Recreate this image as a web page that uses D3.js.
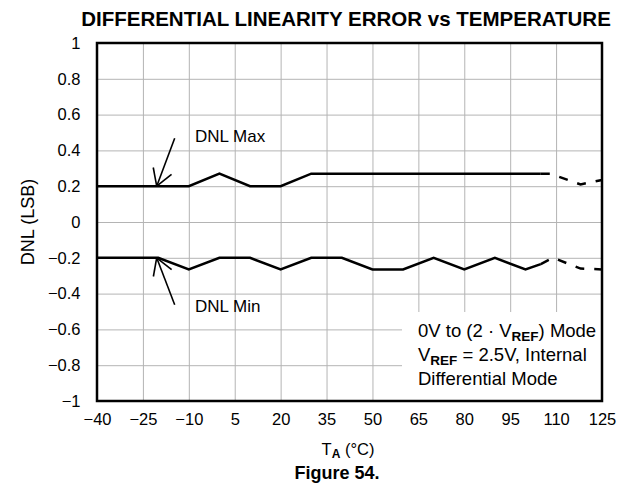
<!DOCTYPE html>
<html>
<head>
<meta charset="utf-8">
<script src="https://cdn.jsdelivr.net/npm/d3@7/dist/d3.min.js"></script>
<style>
  html, body { margin: 0; padding: 0; background: #fff; }
  svg { display: block; font-family: Arial, "Liberation Sans", Helvetica, sans-serif; }
</style>
</head>
<body>
<svg id="chart" width="629" height="485"></svg>
<script>
// Temperature (°C) tick values and DNL tick values
const xTicks = [-40, -25, -10, 5, 20, 35, 50, 65, 80, 95, 110, 125];
const yTicks = [-1, -0.8, -0.6, -0.4, -0.2, 0, 0.2, 0.4, 0.6, 0.8, 1];

// DNL Max, measured range (solid) and extrapolated range (dashed)
const maxTemp   = [-40, -25, -10, 0, 10, 20, 30, 40, 50, 60, 70, 80, 90, 100, 105];
const maxDnl    = [0.2, 0.2, 0.2, 0.27, 0.2, 0.2, 0.27, 0.27, 0.27, 0.27, 0.27, 0.27, 0.27, 0.27, 0.27];
const maxTempEx = [105, 108, 118, 125];
const maxDnlEx  = [0.27, 0.27, 0.21, 0.235];

// DNL Min, measured range (solid) and extrapolated range (dashed)
const minTemp   = [-40, -20, -10, 0, 10, 20, 30, 40, 50, 60, 70, 80, 90, 100, 105];
const minDnl    = [-0.2, -0.2, -0.265, -0.2, -0.2, -0.265, -0.2, -0.2, -0.265, -0.265, -0.2, -0.265, -0.2, -0.265, -0.235];
const minTempEx = [105, 109, 118, 125];
const minDnlEx  = [-0.235, -0.2, -0.26, -0.265];

const fmt = v => String(v).replace("-", "\u2212");

const svg = d3.select("#chart");
const L = 97, R = 602, T = 43, B = 401;

const x = d3.scaleLinear().domain([-40, 125]).range([L, R]);
const y = d3.scaleLinear().domain([-1, 1]).range([B, T]);

// Title
svg.append("text")
  .attr("x", 346).attr("y", 26)
  .attr("text-anchor", "middle")
  .attr("font-size", 20.5).attr("font-weight", "bold")
  .text("DIFFERENTIAL LINEARITY ERROR vs TEMPERATURE");

// Grid
svg.append("g")
  .attr("transform", `translate(0,${B})`)
  .call(d3.axisBottom(x).tickValues(xTicks).tickSize(-(B - T)).tickFormat(""))
  .call(g => g.select(".domain").remove())
  .call(g => g.selectAll("line").attr("stroke", "#b4b4b4").attr("stroke-width", 1));

svg.append("g")
  .attr("transform", `translate(${L},0)`)
  .call(d3.axisLeft(y).tickValues(yTicks).tickSize(-(R - L)).tickFormat(""))
  .call(g => g.select(".domain").remove())
  .call(g => g.selectAll("line").attr("stroke", "#b4b4b4").attr("stroke-width", 1));

// Tick labels
svg.append("g")
  .attr("transform", `translate(0,${B})`)
  .call(d3.axisBottom(x).tickValues(xTicks).tickSize(0).tickPadding(12).tickFormat(fmt))
  .call(g => g.select(".domain").remove())
  .call(g => g.selectAll("text").attr("font-size", 16.5).attr("fill", "#000")
              .attr("font-family", "Arial, 'Liberation Sans', sans-serif"));

svg.append("g")
  .attr("transform", `translate(${L},0)`)
  .call(d3.axisLeft(y).tickValues(yTicks).tickSize(0).tickPadding(16.5).tickFormat(fmt))
  .call(g => g.select(".domain").remove())
  .call(g => g.selectAll("text").attr("font-size", 16.5).attr("fill", "#000")
              .attr("font-family", "Arial, 'Liberation Sans', sans-serif"));

// Condition note box (white panel over the grid)
svg.append("rect")
  .attr("x", 402).attr("y", 312)
  .attr("width", R - 402).attr("height", B - 312)
  .attr("fill", "#fff");

const note = svg.append("text").attr("font-size", 18.5).attr("x", 418);
const l1 = note.append("tspan").attr("x", 418).attr("y", 337);
l1.append("tspan").text("0V to (2 \u00B7 V");
l1.append("tspan").attr("font-size", 13.5).attr("font-weight", "bold").attr("dy", 4).text("REF");
l1.append("tspan").attr("dy", -4).text(") Mode");
const l2 = note.append("tspan").attr("x", 418).attr("y", 361);
l2.append("tspan").text("V");
l2.append("tspan").attr("font-size", 13.5).attr("font-weight", "bold").attr("dy", 4).text("REF");
l2.append("tspan").attr("dy", -4).text(" = 2.5V, Internal");
note.append("tspan").attr("x", 418).attr("y", 385).text("Differential Mode");

// Data lines
const line = d3.line().x(d => x(d[0])).y(d => y(d[1]));
const series = [
  { t: maxTemp, v: maxDnl, dash: null },
  { t: maxTempEx, v: maxDnlEx, dash: "9,10" },
  { t: minTemp, v: minDnl, dash: null },
  { t: minTempEx, v: minDnlEx, dash: "9,10" }
];
series.forEach(s => {
  svg.append("path")
    .datum(s.t.map((t, i) => [t, s.v[i]]))
    .attr("d", line)
    .attr("fill", "none")
    .attr("stroke", "#000")
    .attr("stroke-width", 2.5)
    .attr("stroke-linejoin", "miter")
    .attr("stroke-dasharray", s.dash);
});

// Frame
svg.append("rect")
  .attr("x", L).attr("y", T).attr("width", R - L).attr("height", B - T)
  .attr("fill", "none").attr("stroke", "#000").attr("stroke-width", 2.5);

// Callout arrows
function callout(tx, tv, dx, dy, label, lx, ly) {
  const px = x(tx), py = y(tv);
  const g = svg.append("g").attr("stroke", "#000").attr("stroke-width", 1.6).attr("fill", "none");
  g.append("line").attr("x1", px + dx).attr("y1", py + dy).attr("x2", px).attr("y2", py);
  const ang = Math.atan2(dy, dx);
  [0.54, -0.54].forEach(a => {
    g.append("line")
      .attr("x1", px).attr("y1", py)
      .attr("x2", px + 19 * Math.cos(ang + a)).attr("y2", py + 19 * Math.sin(ang + a));
  });
  svg.append("text").attr("x", lx).attr("y", py + ly)
    .attr("font-size", 17).text(label);
}
callout(-20.5, 0.2, 18, -48, "DNL Max", 195, -44);
callout(-20.5, -0.2, 18, 47, "DNL Min", 195, 54);

// Axis titles
svg.append("text")
  .attr("transform", `translate(34,222) rotate(-90)`)
  .attr("text-anchor", "middle").attr("font-size", 18)
  .text("DNL (LSB)");

const xt = svg.append("text").attr("x", 348).attr("y", 455)
  .attr("text-anchor", "middle").attr("font-size", 16.5);
xt.append("tspan").text("T");
xt.append("tspan").attr("font-size", 12).attr("font-weight", "bold").attr("dy", 3).text("A");
xt.append("tspan").attr("dy", -3).text(" (\u00B0C)");

svg.append("text").attr("x", 337).attr("y", 479)
  .attr("text-anchor", "middle").attr("font-size", 18).attr("font-weight", "bold")
  .text("Figure 54.");
</script>
</body>
</html>
